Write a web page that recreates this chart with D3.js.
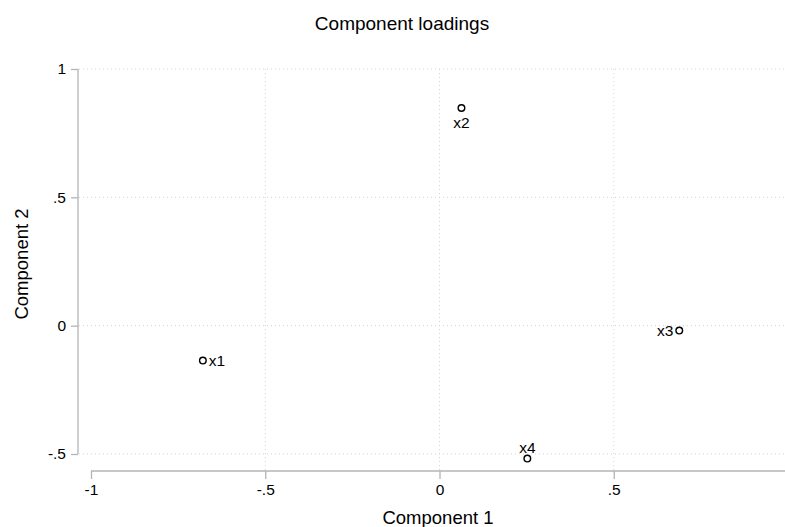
<!DOCTYPE html>
<html>
<head>
<meta charset="utf-8">
<script src="https://cdn.jsdelivr.net/npm/d3@7"></script>
<style>
  body { margin: 0; background: #fff; }
  text { font-family: "Liberation Sans", Arial, Helvetica, sans-serif; fill: #000; }
</style>
</head>
<body>
<div class="chart"></div>
<script>
// loadings
var variables = ["x1", "x2", "x3", "x4"];
var comp1 = [-0.679, 0.063, 0.688, 0.252];
var comp2 = [-0.136, 0.848, -0.019, -0.518];
var labelPos = ["right", "below", "left", "above"];
var xTicks = [-1, -0.5, 0, 0.5];
var yTicks = [-0.5, 0, 0.5, 1];

var width = 785, height = 527;

const svg = d3.select(".chart")
  .append("svg")
  .attr("width", width)
  .attr("height", height);

var x = d3.scaleLinear().domain([-1, 1]).range([91, 788]);
var y = d3.scaleLinear().domain([-0.5, 1]).range([454, 69]);

// stata style: "-.5", ".5", "0", "1"
var fmt = d => String(d).replace("0.", ".");

var axisColor = "#b4b4b4";
var gridColor = "#d4d4d4";

// gridlines
svg.append("g").selectAll("line")
  .data(yTicks)
  .enter().append("line")
  .attr("x1", 79).attr("x2", width)
  .attr("y1", d => y(d)).attr("y2", d => y(d))
  .attr("stroke", gridColor)
  .attr("stroke-dasharray", "1,3");

svg.append("g").selectAll("line")
  .data(xTicks.filter(d => d !== -1))
  .enter().append("line")
  .attr("x1", d => x(d)).attr("x2", d => x(d))
  .attr("y1", 69).attr("y2", 470)
  .attr("stroke", gridColor)
  .attr("stroke-dasharray", "1,3");

// y axis
var yAxis = svg.append("g")
  .attr("transform", "translate(78,0)")
  .call(d3.axisLeft(y).tickValues(yTicks).tickFormat(fmt).tickSize(7).tickPadding(5).tickSizeOuter(0));
yAxis.selectAll("line, path").attr("stroke", axisColor).attr("stroke-width", 1.3);
yAxis.select(".domain").attr("d", "M0," + y(1) + "V" + y(-0.5));
yAxis.selectAll("text").style("font-size", "15.5px").attr("fill", "#000");

// x axis
var xAxis = svg.append("g")
  .attr("transform", "translate(0,471)")
  .call(d3.axisBottom(x).tickValues(xTicks).tickFormat(fmt).tickSize(8).tickPadding(5).tickSizeOuter(0));
xAxis.selectAll("line, path").attr("stroke", axisColor).attr("stroke-width", 1.3);
xAxis.select(".domain").attr("d", "M" + x(-1) + ",0H" + width);
xAxis.selectAll("text").style("font-size", "15.5px").attr("fill", "#000");

// titles
svg.append("text")
  .attr("x", 402).attr("y", 30)
  .attr("text-anchor", "middle")
  .style("font-size", "19px")
  .text("Component loadings");

svg.append("text")
  .attr("x", 438).attr("y", 524)
  .attr("text-anchor", "middle")
  .style("font-size", "18.5px")
  .text("Component 1");

svg.append("text")
  .attr("transform", "translate(28,264) rotate(-90)")
  .attr("text-anchor", "middle")
  .style("font-size", "18.5px")
  .text("Component 2");

// points
var pts = variables.map((v, i) => ({name: v, c1: comp1[i], c2: comp2[i], pos: labelPos[i]}));

var pt = svg.append("g").selectAll("g")
  .data(pts)
  .enter().append("g")
  .attr("transform", d => `translate(${x(d.c1)},${y(d.c2)})`);

pt.append("circle")
  .attr("r", 3.3)
  .attr("fill", "none")
  .attr("stroke", "#000")
  .attr("stroke-width", 1.4);

pt.append("text")
  .style("font-size", "15.5px")
  .attr("x", d => d.pos === "right" ? 6 : d.pos === "left" ? -6 : 0)
  .attr("y", d => d.pos === "below" ? 20 : d.pos === "above" ? -6 : 5)
  .attr("text-anchor", d => d.pos === "right" ? "start" : d.pos === "left" ? "end" : "middle")
  .text(d => d.name);
</script>
</body>
</html>
